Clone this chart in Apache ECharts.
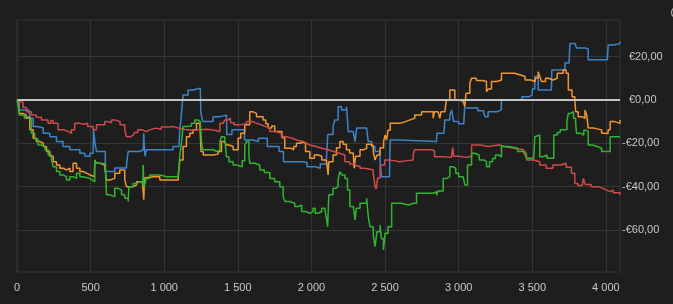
<!DOCTYPE html>
<html>
<head>
<meta charset="utf-8">
<script src="https://cdn.jsdelivr.net/npm/echarts@6/dist/echarts.min.js"></script>
<style>
html,body{margin:0;padding:0;background:#1e1e1e;}
#c{width:673px;height:304px;}
</style>
</head>
<body>
<div id="c"></div>
<script>
// ---- data (x = trade index, y = cumulative P/L in €) ----
const xTicks = [0, 500, 1000, 1500, 2000, 2500, 3000, 3500, 4000];
const yTicks = [-60, -40, -20, 0, 20];

const blue = [[0,0],[14,-4.6],[80,-4.6],[90,-8.5],[110,-12.3],[135,-12.8],[178,-15.4],[223,-17],[268,-19.2],[313,-21.5],[359,-23],[427,-24.6],[461,-26],[495,-24.6],[517,-24],[520,-13.8],[530,-20],[540,-23.8],[574,-23.8],[600,-33],[642,-33],[664,-31.4],[721,-31.4],[744,-30],[755,-23.8],[834,-23],[858,-23],[861,-15.4],[866,-23],[870,-26],[878,-23],[1016,-23],[1060,-21.5],[1100,-21.5],[1106,-13.8],[1115,-8],[1128,2.3],[1162,4.6],[1196,5.4],[1245,5.4],[1249,-6],[1262,-10],[1310,-10],[1332,-7.7],[1378,-7],[1423,-7],[1425,-16],[1460,-13.8],[1530,-13.8],[1545,-18.5],[1600,-19.2],[1640,-17.7],[1700,-21.5],[1780,-23.8],[1810,-28.5],[1950,-29],[1970,-30.8],[2030,-31.5],[2060,-29.5],[2100,-30],[2111,-16],[2147,-12.3],[2159,-9.2],[2181,-3.1],[2204,-4.6],[2238,-3.1],[2250,-14.6],[2284,-15.4],[2296,-19.2],[2307,-13],[2375,-12.3],[2386,-19.2],[2409,-21.5],[2432,-23.8],[2466,-28.5],[2476,-35.4],[2530,-35.4],[2535,-18.5],[2600,-19.2],[2850,-19.2],[2852,-15.4],[2900,-15],[2906,-9.2],[2940,-7],[2952,-4.6],[2965,-10],[3000,-11],[3035,-11.5],[3040,-3.7],[3100,-3.7],[3130,-5],[3170,-6],[3180,-7.7],[3200,-5.5],[3260,-4.6],[3290,0],[3400,0],[3430,1.5],[3480,2.3],[3500,5],[3517,10.8],[3530,10.8],[3540,4.6],[3630,4.6],[3633,13.8],[3700,13.8],[3722,17],[3750,17],[3756,26],[3790,26],[3801,24],[3860,23.5],[3880,18.5],[4010,18.8],[4016,25.4],[4050,26],[4096,27]];

const orange = [[0,0],[7,-1],[16,-6.2],[39,-6.9],[62,-8],[87,-13.8],[110,-17.7],[132,-19.2],[155,-20],[178,-21.5],[200,-23.8],[223,-26],[246,-28.5],[268,-30],[291,-31.5],[313,-32.3],[336,-31.5],[359,-33],[381,-29.2],[404,-31.5],[427,-33],[449,-33.8],[472,-34.6],[495,-35.4],[525,-35.4],[528,-29.2],[562,-30],[596,-29.2],[606,-36.9],[630,-36.2],[664,-33.8],[698,-32.3],[732,-36.9],[744,-40],[789,-39.2],[812,-37.7],[834,-37.7],[855,-40],[861,-46],[866,-36],[879,-35.4],[925,-35.4],[970,-36.9],[1060,-36.9],[1095,-35.4],[1106,-27.7],[1128,-21.5],[1151,-17],[1174,-15.4],[1196,-13.8],[1219,-10.8],[1242,-10.8],[1250,-23.8],[1265,-25.4],[1332,-25],[1366,-23.8],[1389,-19.2],[1410,-18.5],[1423,-20.8],[1440,-21.5],[1468,-23],[1502,-17.7],[1520,-15.4],[1547,-11.5],[1581,-5.4],[1600,-6.2],[1627,-7.7],[1650,-7.7],[1672,-9.2],[1690,-11],[1706,-13],[1730,-12],[1751,-14.6],[1785,-14.6],[1800,-17.5],[1819,-22.3],[1864,-23],[1880,-21.5],[1898,-20],[1920,-19.5],[1944,-20],[1960,-23.8],[1989,-26.9],[2020,-25.4],[2046,-26],[2070,-27.7],[2102,-28.5],[2113,-34.6],[2118,-28.5],[2147,-25.4],[2170,-22],[2193,-19.2],[2215,-20.5],[2238,-23],[2260,-24.5],[2284,-25.4],[2290,-31.5],[2300,-26],[2330,-23],[2355,-22.3],[2375,-20.5],[2400,-21],[2420,-23.8],[2432,-27.7],[2445,-25.4],[2466,-22],[2490,-19.2],[2500,-16.2],[2510,-18.5],[2520,-14],[2535,-10.8],[2570,-10.8],[2600,-10],[2640,-9.2],[2670,-8.5],[2702,-6.9],[2748,-5.4],[2800,-5.4],[2827,-8.5],[2835,-5.4],[2860,-5.4],[2872,-8.5],[2880,-5.4],[2906,-4.6],[2917,0],[2940,4.6],[2960,4.6],[2974,0],[3000,-0.5],[3030,-1],[3042,-3.1],[3050,3.1],[3076,7.7],[3087,10],[3120,9],[3160,8.5],[3189,3.8],[3200,5],[3223,8.5],[3260,9.2],[3291,12.3],[3380,11.5],[3420,10.8],[3451,9.2],[3490,8.5],[3520,10],[3540,13],[3550,11],[3563,8.5],[3590,10],[3610,9.2],[3640,10],[3670,12.3],[3710,13.8],[3730,12.3],[3745,4.6],[3770,1.5],[3789,0],[3795,-5.4],[3812,-7.7],[3840,-8.5],[3858,-4.6],[3870,-7],[3880,-13],[3920,-13.8],[3971,-15.4],[4000,-15.5],[4015,-13.8],[4029,-10],[4060,-10.8],[4096,-9.2]];

const green = [[0,0],[7,-2],[16,-6.9],[50,-8.5],[76,-9.2],[98,-15.4],[120,-18],[143,-20.8],[166,-21.5],[189,-23],[212,-25.4],[234,-27.7],[246,-30.8],[268,-33],[291,-34.6],[313,-35.4],[336,-36.9],[359,-35.4],[381,-36.2],[404,-33.8],[427,-35.4],[449,-36.2],[495,-36.9],[510,-37.7],[528,-27.7],[540,-29.2],[574,-29.5],[600,-30],[608,-43.8],[630,-44.6],[664,-40.8],[687,-41.5],[710,-43.8],[732,-45.4],[755,-46.9],[760,-40],[789,-38.5],[812,-37.7],[834,-38.5],[855,-38.5],[857,-30],[862,-40],[873,-38],[879,-36.2],[902,-34.6],[925,-34.6],[970,-35.4],[1016,-35.4],[1060,-35.4],[1095,-34.6],[1106,-25.4],[1115,-21],[1128,-12.3],[1160,-12],[1185,-10.8],[1208,-9.2],[1230,-10],[1245,-10],[1253,-19.2],[1262,-23],[1332,-23.8],[1360,-23],[1378,-19.2],[1389,-17],[1410,-17.5],[1423,-26.2],[1440,-28.5],[1468,-30],[1491,-30.8],[1530,-28],[1547,-20.8],[1560,-19.2],[1575,-25],[1581,-29.2],[1615,-30],[1649,-32.3],[1680,-33.5],[1717,-36.2],[1750,-37.7],[1785,-40],[1808,-44.6],[1820,-46.9],[1850,-47.7],[1887,-49.2],[1910,-48.5],[1933,-51.5],[1960,-52.3],[1990,-51.5],[2011,-50],[2025,-52.3],[2045,-51.5],[2070,-50],[2090,-50.8],[2102,-54.6],[2110,-58.5],[2118,-43.8],[2147,-40.8],[2165,-40],[2181,-36.9],[2193,-33.1],[2205,-34.6],[2227,-36.2],[2245,-41.5],[2261,-49.2],[2285,-50],[2296,-55.4],[2305,-50],[2330,-47.7],[2360,-47.7],[2375,-45.4],[2386,-53.8],[2398,-58.5],[2420,-62.3],[2432,-67.7],[2445,-60.8],[2466,-57.7],[2475,-64],[2489,-69.2],[2500,-61.5],[2520,-58.5],[2545,-47.7],[2580,-47.7],[2610,-48.5],[2660,-47.7],[2691,-47.7],[2714,-43.1],[2780,-43.1],[2828,-42.3],[2850,-44],[2860,-42],[2895,-36.2],[2920,-35.4],[2940,-30.8],[2960,-31.5],[2980,-33.8],[3000,-35.4],[3030,-36.2],[3042,-39.2],[3060,-30],[3088,-24.6],[3110,-25.4],[3140,-27.7],[3170,-28.5],[3189,-30.8],[3210,-28.5],[3230,-27],[3250,-25.4],[3270,-26.2],[3291,-21.5],[3340,-22.3],[3400,-23.8],[3451,-25.4],[3461,-26.9],[3510,-26.9],[3517,-17],[3530,-16.2],[3551,-26.2],[3575,-25.4],[3600,-26.9],[3630,-26.9],[3646,-16.2],[3670,-15],[3690,-13.8],[3720,-13.8],[3735,-10],[3745,-6.2],[3760,-5.4],[3780,-8.5],[3795,-11],[3801,-15.4],[3830,-16.2],[3850,-14],[3865,-14.5],[3880,-20.8],[3910,-21.5],[3940,-22.3],[3971,-23.8],[4010,-23.8],[4029,-17],[4060,-17],[4096,-16.8]];

const red = [[0,0],[12,-1],[40,-3.5],[64,-5.4],[98,-6.9],[130,-8],[166,-9.2],[211,-10.8],[230,-9.5],[245,-10.8],[279,-13.8],[320,-14.6],[350,-15.4],[370,-13.8],[392,-10.8],[430,-11.2],[449,-10.8],[480,-12.3],[517,-13.8],[540,-11.5],[596,-10],[620,-10.5],[642,-9.2],[665,-10],[700,-11.5],[732,-13.8],[744,-17],[770,-16.2],[789,-17],[800,-15],[820,-13.8],[850,-14.6],[880,-13.8],[900,-13],[940,-13.5],[980,-12.5],[1027,-12.3],[1060,-13],[1100,-13.8],[1150,-14],[1200,-13.8],[1242,-13.5],[1290,-14],[1344,-14.6],[1378,-10.8],[1400,-10],[1412,-9.2],[1435,-8.5],[1450,-10.5],[1475,-11.5],[1510,-11],[1559,-10],[1600,-10.8],[1630,-11.5],[1660,-12.3],[1690,-13],[1717,-14.6],[1760,-15.4],[1796,-17],[1830,-17.7],[1870,-18.5],[1899,-19.2],[1944,-20],[1970,-20.8],[1989,-21.5],[2030,-22.3],[2070,-23],[2113,-23.8],[2150,-24.6],[2190,-25.4],[2227,-28.5],[2260,-29.5],[2300,-30.5],[2330,-31.5],[2360,-32],[2400,-32.3],[2420,-33.8],[2432,-40],[2440,-41],[2450,-36],[2466,-31],[2476,-30],[2498,-27.7],[2520,-28],[2560,-28.5],[2600,-28],[2650,-27.7],[2691,-25.4],[2700,-23],[2780,-23],[2820,-23.5],[2836,-26.2],[2900,-26.5],[2950,-26.2],[2960,-22],[2965,-26],[3000,-26.5],[3050,-26],[3088,-20.8],[3150,-21.5],[3200,-21],[3246,-20.8],[3280,-21.5],[3310,-22.3],[3380,-23],[3440,-24.6],[3461,-27.7],[3510,-28.5],[3551,-30],[3594,-31.5],[3640,-30],[3692,-29.2],[3730,-31],[3766,-33.8],[3789,-38.5],[3810,-39.5],[3840,-39],[3847,-36.2],[3860,-39],[3900,-40],[3947,-40.8],[3980,-41.5],[4000,-42.3],[4030,-41.5],[4050,-42.8],[4096,-43.8]];

const xMax = 4096;
const yMin = -79.4;
const yMax = 36.9;

// ---- chart ----
const GRID = '#353535';
const TXT = '#c8c8c8';
const FONT = '"Liberation Sans", Arial, sans-serif';

function fmtX(v) {
  return String(v).replace(/\B(?=(\d{3})+(?!\d))/g, ' ');
}
function fmtY(v) {
  const s = '€' + Math.abs(v).toFixed(2).replace('.', ',');
  return v < 0 ? '{n|-' + s + '}' : '{p|' + s + '}';
}

function lineSeries(name, data, color, z) {
  return {
    name: name, type: 'line', data: data, step: 'end',
    showSymbol: false, symbol: 'none', z: z,
    lineStyle: { color: color, width: 1.5 },
    emphasis: { disabled: true }
  };
}

const chart = echarts.init(document.getElementById('c'), null, { renderer: 'canvas' });
chart.setOption({
  backgroundColor: '#1e1e1e',
  animation: false,
  grid: { left: 17, right: 53, top: 20, bottom: 32, show: true, borderColor: GRID, borderWidth: 1 },
  xAxis: {
    type: 'value', min: 0, max: xMax,
    axisLine: { show: true, lineStyle: { color: GRID } },
    axisTick: { show: false, customValues: xTicks },
    splitLine: { show: true, lineStyle: { color: GRID, width: 1 } },
    axisLabel: {
      customValues: xTicks, color: TXT, fontFamily: FONT, fontSize: 11, margin: 10,
      formatter: fmtX
    }
  },
  yAxis: {
    type: 'value', position: 'right', min: yMin, max: yMax,
    axisLine: { show: false },
    axisTick: { show: true, inside: false, length: 6, customValues: yTicks, lineStyle: { color: GRID } },
    splitLine: { show: true, lineStyle: { color: GRID, width: 1 } },
    axisLabel: {
      customValues: yTicks, color: TXT, fontFamily: FONT, fontSize: 11, margin: 2,
      formatter: fmtY,
      rich: {
        n: { color: TXT, fontFamily: FONT, fontSize: 11 },
        p: { color: TXT, fontFamily: FONT, fontSize: 11, padding: [0, 0, 0, 7] }
      }
    }
  },
  series: [
    Object.assign(lineSeries('A', blue, '#3d84c8', 3), {
      markLine: {
        silent: true, symbol: 'none', label: { show: false },
        lineStyle: { color: '#c4c4c4', width: 2, type: 'solid' },
        data: [{ yAxis: 0 }]
      }
    }),
    lineSeries('B', orange, '#f0982f', 4),
    lineSeries('D', red, '#cf4a4a', 5),
    lineSeries('C', green, '#31b531', 6)
  ],
  graphic: [{
    type: 'circle', shape: { cx: 677, cy: 12.5, r: 5.5 },
    style: { fill: 'none', stroke: '#a8a8a8', lineWidth: 1.3 }
  }]
});
</script>
</body>
</html>
